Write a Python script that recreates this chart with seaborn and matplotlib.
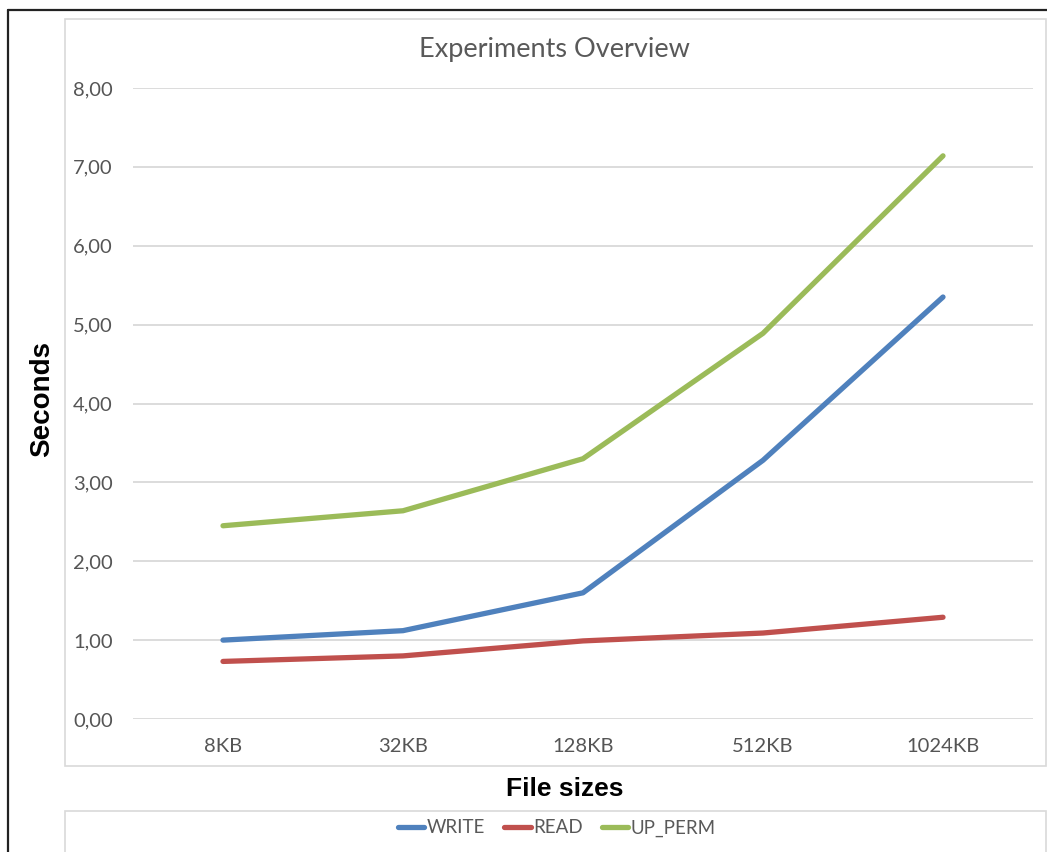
import matplotlib
matplotlib.use("Agg")
import matplotlib.pyplot as plt
import seaborn as sns
import pandas as pd
from matplotlib.lines import Line2D
from matplotlib.patches import Rectangle
from matplotlib.ticker import FuncFormatter

# ---- data ----
file_sizes = ["8KB", "32KB", "128KB", "512KB", "1024KB"]
write_s = [1.00, 1.12, 1.60, 3.28, 5.35]
read_s = [0.73, 0.80, 0.99, 1.09, 1.29]
up_perm_s = [2.45, 2.64, 3.30, 4.89, 7.14]
series_names = ["WRITE", "READ", "UP_PERM"]
y_ticks = [0, 1, 2, 3, 4, 5, 6, 7, 8]

colors = {"WRITE": "#4F81BD", "READ": "#C0504D", "UP_PERM": "#9BBB59"}

rows = []
for name, vals in zip(series_names, [write_s, read_s, up_perm_s]):
    for i, (fs, v) in enumerate(zip(file_sizes, vals)):
        rows.append({"pos": i, "size": fs, "value": v, "series": name})
df = pd.DataFrame(rows)

sns.set_theme(style="white")
plt.rcParams["font.family"] = ["Lato", "DejaVu Sans"]

W, H = 1047, 852
fig = plt.figure(figsize=(W / 100, H / 100), dpi=100)

def fx(px):
    return px / W

def fy(py):
    return 1 - py / H

# axes: x 133..1033, y 88..719 (pixels)
ax = fig.add_axes([fx(133), fy(719), fx(1033) - fx(133), fy(88) - fy(719)])

sns.lineplot(data=df, x="pos", y="value", hue="series", palette=colors,
             hue_order=series_names, linewidth=3.8, ax=ax, legend=False,
             solid_capstyle="round", solid_joinstyle="round")

ax.set_xlim(-0.5, len(file_sizes) - 0.5)
ax.set_ylim(min(y_ticks), max(y_ticks))
ax.set_yticks(y_ticks)
ax.yaxis.set_major_formatter(FuncFormatter(lambda v, p: f"{v:.2f}".replace(".", ",")))
ax.set_xticks(range(len(file_sizes)))
ax.set_xticklabels(file_sizes)
ax.tick_params(axis="both", length=0, labelsize=14.5, labelcolor="#555555")
ax.tick_params(axis="y", pad=14.5)
ax.tick_params(axis="x", pad=14)
ax.grid(axis="y", color="#d9d9d9", linewidth=1.3)
ax.set_axisbelow(True)
for s in ax.spines.values():
    s.set_visible(False)
ax.set_xlabel("")
ax.set_ylabel("")

# title & axis labels
fig.text(fx(554), fy(49), "Experiments Overview", ha="center", va="center",
         fontsize=19.5, color="#595959")
fig.text(fx(565), fy(789), "File sizes", ha="center", va="center",
         fontsize=19, fontweight="bold", color="black", family="Liberation Sans")
fig.text(fx(42), fy(399), "Seconds", ha="center", va="center", rotation=90,
         fontsize=20, fontweight="bold", color="black", family="Liberation Sans")

# frames
fig.add_artist(Rectangle((fx(65), fy(766)), fx(1046) - fx(65), fy(19) - fy(766),
                         transform=fig.transFigure, fill=False,
                         edgecolor="#d9d9d9", linewidth=1.2, zorder=0))
fig.add_artist(Rectangle((fx(65), fy(880)), fx(1046) - fx(65), fy(811) - fy(880),
                         transform=fig.transFigure, fill=False,
                         edgecolor="#d9d9d9", linewidth=1.2, zorder=0))
fig.add_artist(Line2D([fx(8), fx(8)], [fy(10), fy(860)], transform=fig.transFigure,
                      color="#222222", linewidth=1.6))
fig.add_artist(Line2D([fx(8), fx(1060)], [fy(10), fy(10)], transform=fig.transFigure,
                      color="#222222", linewidth=1.6))

# legend
handles = [Line2D([0], [0], color=colors[n], linewidth=3.8, solid_capstyle="round")
           for n in series_names]
leg = fig.legend(handles, series_names, loc="center", bbox_to_anchor=(fx(557), fy(828)),
                 ncol=3, frameon=False, fontsize=13.5, handlelength=1.4,
                 handletextpad=0.15, columnspacing=1.0)
for t in leg.get_texts():
    t.set_color("#595959")

fig.savefig("out.png", dpi=100)
